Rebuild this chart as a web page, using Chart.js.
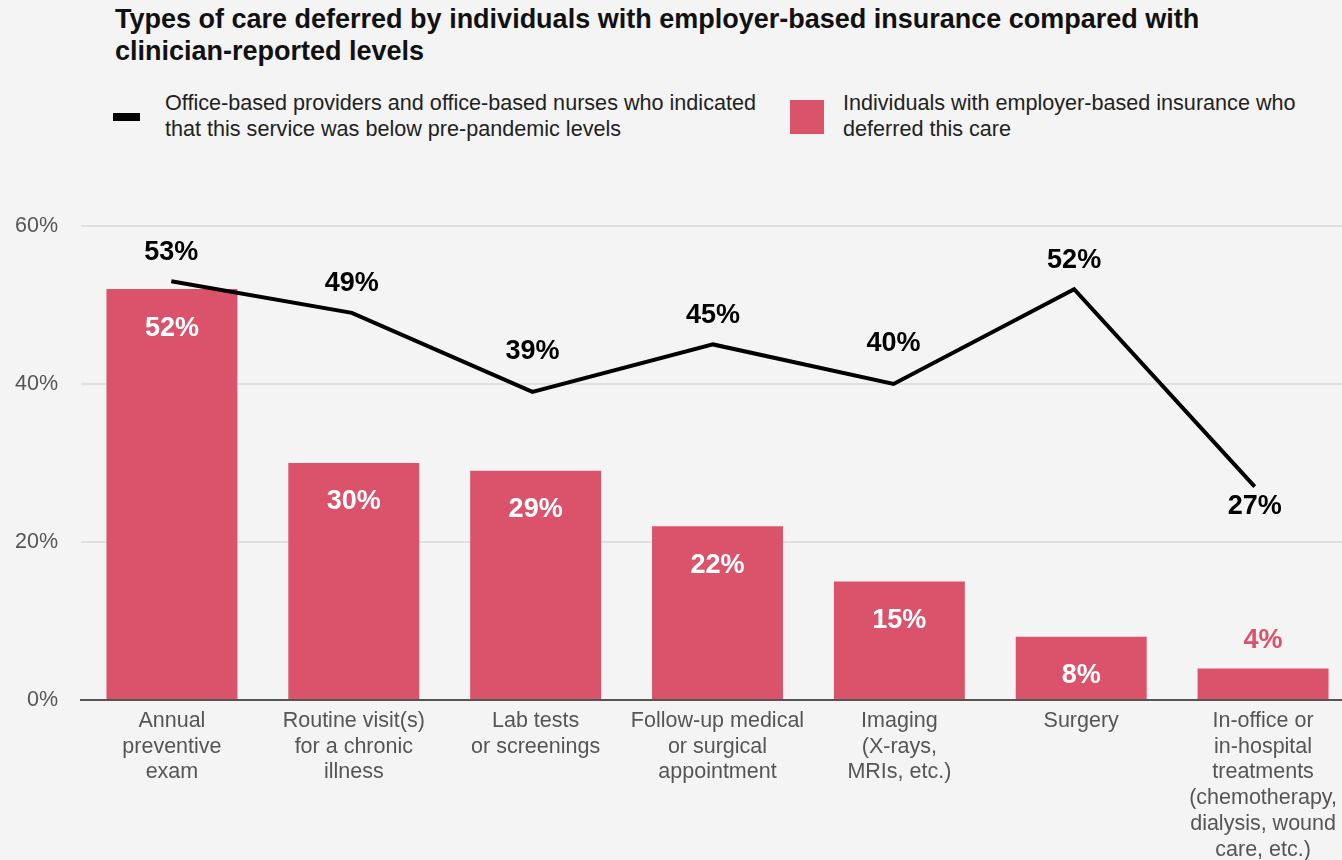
<!DOCTYPE html>
<html>
<head>
<meta charset="utf-8">
<script src="https://cdn.jsdelivr.net/npm/chart.js@4/dist/chart.umd.min.js"></script>
<style>
  html, body { margin: 0; padding: 0; background: #f4f4f4; overflow: hidden; }
  body { width: 1342px; height: 860px; position: relative; font-family: "Liberation Sans", Arial, Helvetica, sans-serif; color: #111; }
  h1 { position: absolute; left: 115px; top: 3px; margin: 0; font-size: 27px; line-height: 32px; font-weight: bold; color: #111; width: 1220px; white-space: nowrap; }
  .legend { position: absolute; font-size: 21.6px; line-height: 26px; color: #222; white-space: nowrap; }
  .swatch { position: absolute; }
  #wrap { position: absolute; left: 0; top: 190px; width: 1354px; height: 670px; }
</style>
</head>
<body>
<h1>Types of care deferred by individuals with employer-based insurance compared with<br>clinician-reported levels</h1>

<div class="swatch" style="left:113px;top:113px;width:27px;height:8px;background:#000"></div>
<div class="legend" style="left:165px;top:90px">Office-based providers and office-based nurses who indicated<br>that this service was below pre-pandemic levels</div>
<div class="swatch" style="left:790px;top:100px;width:34px;height:34px;background:#db536a"></div>
<div class="legend" style="left:843px;top:90px">Individuals with employer-based insurance who<br>deferred this care</div>

<div id="wrap"><canvas id="chart" width="1354" height="670"></canvas></div>

<script>
const categories = [
  ["Annual", "preventive", "exam"],
  ["Routine visit(s)", "for a chronic", "illness"],
  ["Lab tests", "or screenings"],
  ["Follow-up medical", "or surgical", "appointment"],
  ["Imaging", "(X-rays,", "MRIs, etc.)"],
  ["Surgery"],
  ["In-office or", "in-hospital", "treatments", "(chemotherapy,", "dialysis, wound", "care, etc.)"],
];
const clinicianLevels = [53, 49, 39, 45, 40, 52, 27];
const deferredCare = [52, 30, 29, 22, 15, 8, 4];
const yTicks = [0, 20, 40, 60];

const PINK = "#db536a";
const FONT = "'Liberation Sans', Arial, sans-serif";

// value labels: line labels above the points (valleys a bit higher, last one below),
// bar labels inside the bar top unless the bar is too short
const valueLabels = {
  id: "valueLabels",
  afterDatasetsDraw(chart) {
    const { ctx } = chart;
    ctx.save();
    ctx.font = "bold 27px " + FONT;
    ctx.textAlign = "center";
    ctx.textBaseline = "middle";

    const bars = chart.getDatasetMeta(1).data;
    bars.forEach((bar, i) => {
      const v = deferredCare[i];
      if (v < 6) {
        ctx.fillStyle = PINK;
        ctx.fillText(v + "%", bar.x, bar.y - 28);
      } else {
        ctx.fillStyle = "#fff";
        ctx.fillText(v + "%", bar.x, bar.y + 39);
      }
    });

    const pts = chart.getDatasetMeta(0).data;
    pts.forEach((pt, i) => {
      const v = clinicianLevels[i];
      ctx.fillStyle = "#000";
      if (i === pts.length - 1) {
        ctx.fillText(v + "%", pt.x, pt.y + 20);
        return;
      }
      const prev = clinicianLevels[i - 1];
      const next = clinicianLevels[i + 1];
      const valley = prev !== undefined && next !== undefined && v < prev && v < next;
      ctx.fillText(v + "%", pt.x, pt.y - (valley ? 40 : 29));
    });
    ctx.restore();
  },
};

new Chart(document.getElementById("chart"), {
  type: "bar",
  data: {
    labels: categories,
    datasets: [
      {
        type: "line",
        label: "Office-based providers and office-based nurses",
        data: clinicianLevels.map((v, i) => ({ x: i, y: v })),
        xAxisID: "xLine",
        borderColor: "#000",
        borderWidth: 4,
        pointRadius: 0,
        tension: 0,
        fill: false,
        order: 0,
      },
      {
        type: "bar",
        label: "Individuals with employer-based insurance",
        data: deferredCare,
        xAxisID: "x",
        grouped: false,
        backgroundColor: PINK,
        categoryPercentage: 0.72,
        barPercentage: 1,
        order: 1,
      },
    ],
  },
  options: {
    responsive: false,
    animation: false,
    layout: { padding: { top: 20, left: 0, right: 0, bottom: 0 } },
    plugins: { legend: { display: false }, tooltip: { enabled: false } },
    scales: {
      x: {
        grid: { display: false, drawTicks: false },
        border: { display: true, color: "#555", width: 2 },
        ticks: {
          color: "#555",
          padding: 8,
          maxRotation: 0,
          autoSkip: false,
          font: { family: FONT, size: 21.5, lineHeight: 1.2 },
        },
        afterFit(scale) { scale.height = 160; },
      },
      // the line runs on its own, slightly tighter horizontal scale
      xLine: {
        type: "linear",
        display: false,
        offset: false,
        min: -0.5,
        max: 6.55,
      },
      y: {
        min: 0,
        max: 60,
        afterBuildTicks(scale) { scale.ticks = yTicks.map((v) => ({ value: v })); },
        grid: {
          drawTicks: false,
          color: (c) => (c.tick && c.tick.value === 0 ? "rgba(0,0,0,0)" : "#e0e0e0"),
          lineWidth: 2,
        },
        border: { display: false },
        ticks: {
          color: "#555",
          padding: 23,
          font: { family: FONT, size: 21.5 },
          callback: (v) => v + "%",
        },
        afterFit(scale) { scale.width = 81; },
      },
    },
  },
  plugins: [valueLabels],
});
</script>
</body>
</html>
